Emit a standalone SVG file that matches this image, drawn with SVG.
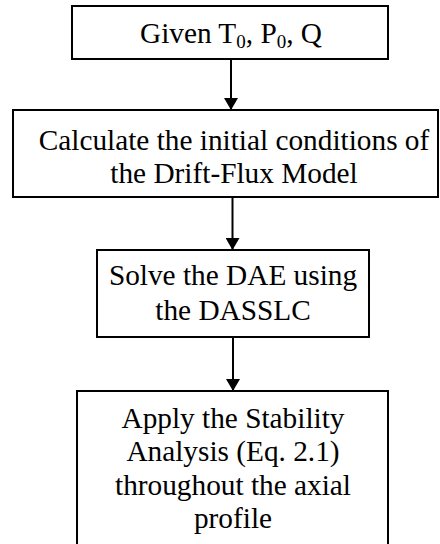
<svg xmlns="http://www.w3.org/2000/svg" width="440" height="544" viewBox="0 0 440 544">
  <style>
    .box { fill: #ffffff; stroke: #000000; stroke-width: 2; }
    .lbl { font-family: "Liberation Serif", "Times New Roman", serif; font-size: 29.3px; fill: #000000; text-anchor: middle; }
    .sub { font-size: 19px; }
    .edge { stroke: #000000; stroke-width: 2; fill: none; marker-end: url(#arrow); }
  </style>
  <defs>
    <marker id="arrow" viewBox="0 0 12 14" refX="12" refY="7" markerWidth="12" markerHeight="14" markerUnits="userSpaceOnUse" orient="auto">
      <path d="M0,0 L12,7 L0,14 Z" fill="#000000"/>
    </marker>
  </defs>
  <rect width="440" height="544" fill="#ffffff"/>

  <g id="connectors">
    <line class="edge" x1="231" y1="59" x2="231" y2="110"/>
    <line class="edge" x1="232.5" y1="197" x2="232.5" y2="250"/>
    <line class="edge" x1="233" y1="337" x2="233" y2="391"/>
  </g>

  <g id="given">
    <rect class="box" x="72" y="6" width="316" height="53"/>
    <text class="lbl" x="231" y="43">Given T<tspan class="sub" dy="5">0</tspan><tspan dy="-5">, P</tspan><tspan class="sub" dy="5">0</tspan><tspan dy="-5">, Q</tspan></text>
  </g>

  <g id="initial-conditions">
    <rect class="box" x="13" y="110" width="425" height="87"/>
    <text class="lbl" x="234" y="150">Calculate the initial conditions of</text>
    <text class="lbl" x="234" y="183">the Drift-Flux Model</text>
  </g>

  <g id="solve-dae">
    <rect class="box" x="97" y="250" width="272" height="87"/>
    <text class="lbl" x="233" y="285">Solve the DAE using</text>
    <text class="lbl" x="233" y="320">the DASSLC</text>
  </g>

  <g id="stability">
    <rect class="box" x="77" y="391" width="311" height="170"/>
    <text class="lbl" x="233" y="428">Apply the Stability</text>
    <text class="lbl" x="233" y="461">Analysis (Eq. 2.1)</text>
    <text class="lbl" x="233" y="495">throughout the axial</text>
    <text class="lbl" x="233" y="528">profile</text>
  </g>
</svg>
